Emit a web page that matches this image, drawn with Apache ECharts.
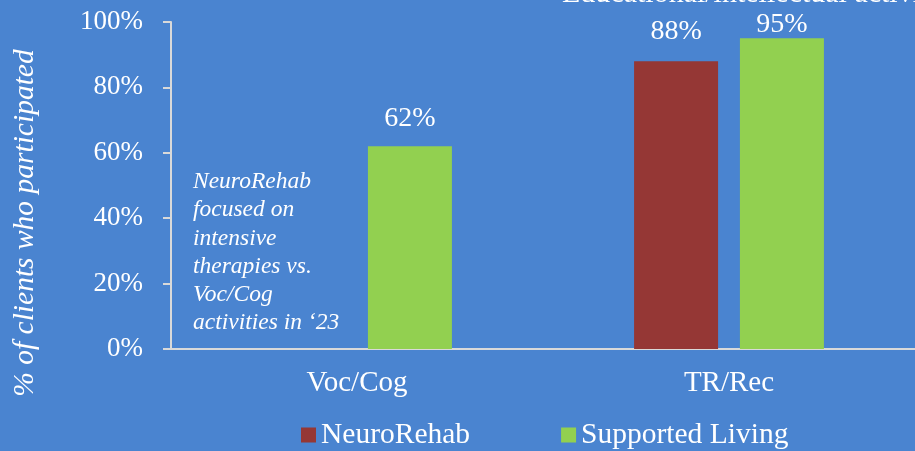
<!DOCTYPE html>
<html>
<head>
<meta charset="utf-8">
<script src="https://cdn.jsdelivr.net/npm/echarts@6/dist/echarts.min.js"></script>
<style>
  html, body { margin: 0; padding: 0; background: #4A84D0; }
  #chart { width: 915px; height: 451px; }
</style>
</head>
<body>
<div id="chart"></div>
<script>
// data
var categories = ['Voc/Cog', 'TR/Rec']
var neuroRehab = [null, 88]
var supportedLiving = [62, 95]
var yTicks = [0, 20, 40, 60, 80, 100]

var serif = '"Liberation Serif", "Times New Roman", serif'
var white = '#ffffff'

// labels near the top sit closer to the bar so they stay inside the picture
function withLabels(values) {
  return values.map(function (v) {
    if (v != null && v > 90) return { value: v, label: { distance: 0 } }
    return v
  })
}

var chart = echarts.init(document.getElementById('chart'))

var option = {
  backgroundColor: '#4A84D0',
  animation: false,
  textStyle: { fontFamily: serif, color: white },
  grid: { left: 171, right: -8, top: 22, bottom: 102, containLabel: false },
  legend: {
    bottom: -4,
    left: 296,
    itemGap: 91,
    itemWidth: 15,
    itemHeight: 15,
    icon: 'rect',
    textStyle: { fontFamily: serif, fontSize: 29.5, color: white, padding: [0, 0, 0, 0] },
    data: ['NeuroRehab', 'Supported Living']
  },
  xAxis: {
    type: 'category',
    data: categories,
    axisLine: { lineStyle: { color: '#D9D9D9', width: 2 } },
    axisTick: { show: false },
    axisLabel: { color: white, fontFamily: serif, fontSize: 29, margin: 20 }
  },
  yAxis: {
    type: 'value',
    min: 0,
    max: 100,
    interval: 20,
    axisLine: { show: true, lineStyle: { color: '#D9D9D9', width: 2 } },
    axisTick: { show: true, length: 8, lineStyle: { color: '#D9D9D9', width: 2 } },
    splitLine: { show: false },
    axisLabel: {
      color: white, fontFamily: serif, fontSize: 27, margin: 28,
      formatter: function (v) { return yTicks.indexOf(v) >= 0 ? v + '%' : '' }
    }
  },
  series: [
    {
      name: 'NeuroRehab',
      type: 'bar',
      data: withLabels(neuroRehab),
      barWidth: 84,
      barGap: '26%',
      itemStyle: { color: '#953735' },
      label: {
        show: true, position: 'top', distance: 16,
        formatter: '{c}%', color: white, fontFamily: serif, fontSize: 28
      }
    },
    {
      name: 'Supported Living',
      type: 'bar',
      data: withLabels(supportedLiving),
      barWidth: 84,
      itemStyle: { color: '#92D050' },
      label: {
        show: true, position: 'top', distance: 14,
        formatter: '{c}%', color: white, fontFamily: serif, fontSize: 28
      }
    }
  ],
  graphic: [
    {
      // heading of the slide, mostly cut off by the top edge
      type: 'text',
      x: 562,
      y: 9,
      style: {
        text: 'Educational/intellectual activities',
        fill: white,
        font: '30px ' + serif,
        verticalAlign: 'bottom'
      }
    },
    {
      type: 'text',
      x: 25,
      y: 223,
      rotation: Math.PI / 2,
      style: {
        text: '% of clients who participated',
        fill: white,
        font: 'italic 29.5px ' + serif,
        align: 'center',
        verticalAlign: 'middle'
      }
    },
    {
      type: 'text',
      left: 193,
      top: 168,
      style: {
        text: 'NeuroRehab\nfocused on\nintensive\ntherapies vs.\nVoc/Cog\nactivities in \u201823',
        fill: white,
        font: 'italic 23.5px ' + serif,
        lineHeight: 28.2
      }
    }
  ]
}

chart.setOption(option)
</script>
</body>
</html>
